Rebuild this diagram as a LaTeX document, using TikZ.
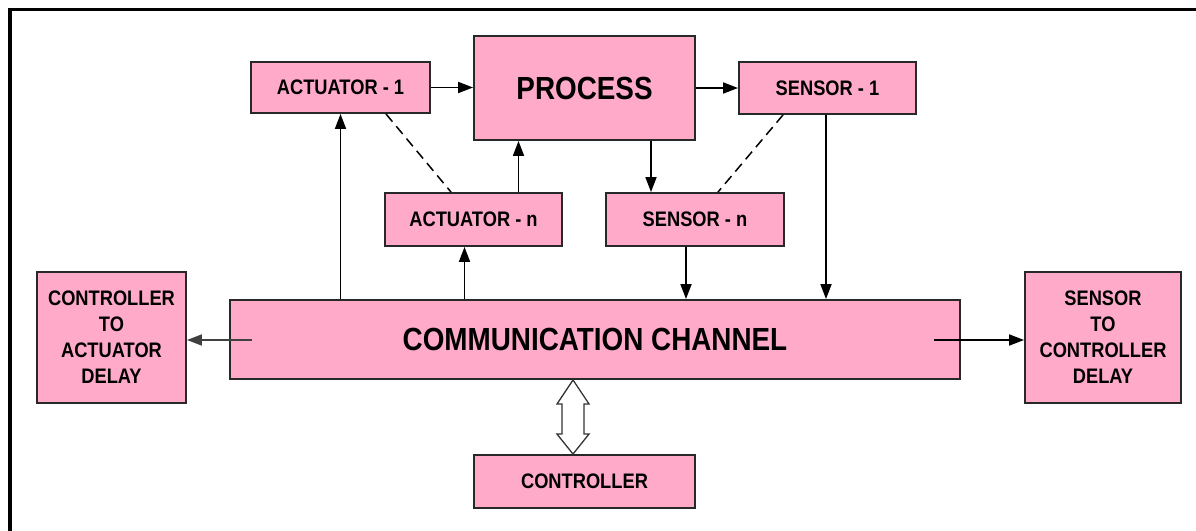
\documentclass[tikz,border=0pt]{standalone}
\usepackage{fontspec}
\setmainfont{Liberation Sans}[FakeStretch=0.87]
\usetikzlibrary{arrows.meta,calc}
\definecolor{boxpink}{RGB}{255,170,200}
\definecolor{boxline}{RGB}{40,40,40}
\begin{document}
\begin{tikzpicture}[x=1pt,y=-1pt,
  blk/.style={draw=boxline,line width=1.9pt,fill=boxpink,inner sep=0pt,
    font=\bfseries\fontsize{21}{26}\selectfont,align=center},
  bigblk/.style={blk,font=\bfseries\fontsize{32}{38}\selectfont},
  arr/.style={line width=1.8pt,-{Triangle[length=15pt,width=11pt]}},
  dashlink/.style={line width=1.5pt,dash pattern=on 10pt off 6pt}]
\useasboundingbox (0,0) rectangle (1196,530);

% outer frame (top and left edges)
\draw[line width=3.5pt] (10,531) -- (10,9.5) -- (1197,9.5);

% blocks
\node[blk,minimum width=179pt,minimum height=51pt] (act1) at (340.5,87.5) {ACTUATOR - 1};
\node[bigblk,minimum width=221pt,minimum height=104pt] (proc) at (584.5,88) {PROCESS};
\node[blk,minimum width=177pt,minimum height=52pt] (sen1) at (827.5,88) {SENSOR - 1};
\node[blk,minimum width=177pt,minimum height=53pt] (actn) at (473.5,219.5) {ACTUATOR - n};
\node[blk,minimum width=178pt,minimum height=53pt] (senn) at (695,219.5) {SENSOR - n};
\node[bigblk,minimum width=730pt,minimum height=79pt] (comm) at (595,339.5) {COMMUNICATION CHANNEL};
\node[blk,minimum width=149pt,minimum height=131pt] (cad) at (111.5,337.5) {CONTROLLER\\TO\\ACTUATOR\\DELAY};
\node[blk,minimum width=156pt,minimum height=131pt] (scd) at (1103,337.5) {SENSOR\\TO\\CONTROLLER\\DELAY};
\node[blk,minimum width=221pt,minimum height=53pt] (ctrl) at (584.5,481.5) {CONTROLLER};

% signal flow
\draw[arr] (act1.east) -- (act1.east -| proc.west);
\draw[arr] (sen1.west -| proc.east) -- (sen1.west);
\draw[arr] (comm.north -| act1.south) -- (act1.south);
\coordinate (an) at ([xshift=-9pt]actn.south);
\draw[arr] (comm.north -| an) -- (an);
\coordinate (ap) at ([xshift=45pt]actn.north);
\draw[arr] (ap) -- (ap |- proc.south);
\coordinate (ps) at ([xshift=-44pt]senn.north);
\draw[arr] (ps |- proc.south) -- (ps);
\coordinate (sn) at ([xshift=-9pt]senn.south);
\draw[arr] (sn) -- (sn |- comm.north);
\coordinate (s1) at ([xshift=-1.5pt]sen1.south);
\draw[arr] (s1) -- (s1 |- comm.north);

% dashed links between the first and n-th devices
\draw[dashlink] ([xshift=45.5pt]act1.south) -- ([xshift=-22.5pt]actn.north);
\draw[dashlink] ([xshift=-44.5pt]sen1.south) -- ([xshift=23pt]senn.north);

% delays
\coordinate (cl) at ([xshift=23pt,yshift=-0.5pt]comm.west);
\draw[arr,draw=black!75] (cl) -- (cl -| cad.east);
\coordinate (cr) at ([xshift=-27pt,yshift=-0.5pt]comm.east);
\draw[arr] (cr) -- (cr -| scd.west);

% two-way link to the controller
\coordinate (dt) at ([xshift=-11.5pt]comm.south -| ctrl.north);
\coordinate (db) at ([xshift=-11.5pt]ctrl.north);
\draw[line width=1.3pt,draw=black!80,line join=miter]
  (dt) -- ++(16,24) -- ++(-5,0) -- ($(db)+(11,-20)$) -- ++(5,0) -- (db)
  -- ++(-16,-20) -- ++(5,0) -- ($(dt)+(-11,24)$) -- ++(-5,0) -- cycle;
\end{tikzpicture}
\end{document}
